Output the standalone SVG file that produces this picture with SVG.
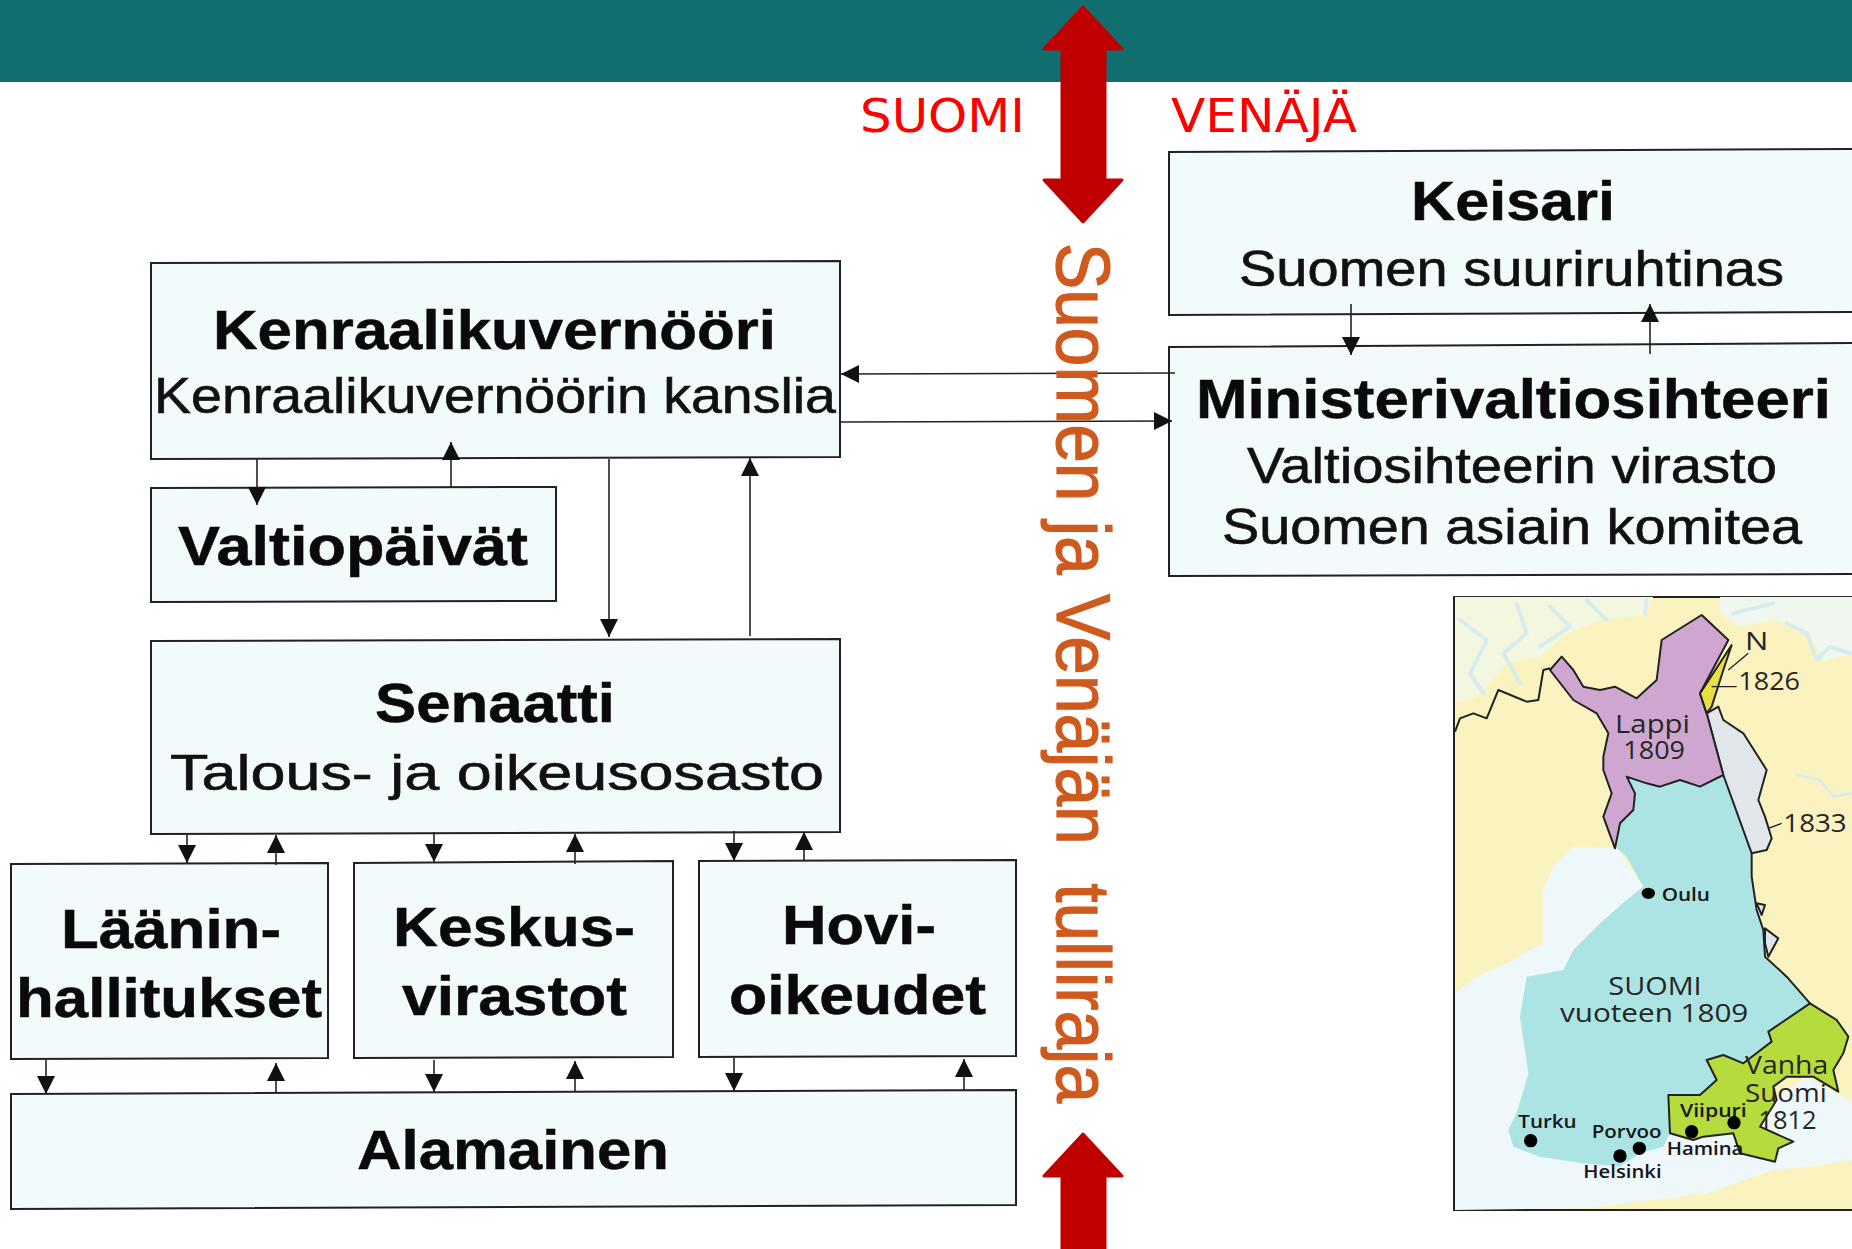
<svg xmlns="http://www.w3.org/2000/svg" width="1852" height="1249" viewBox="0 0 1852 1249">
<style>
.box{fill:#f2fafb;stroke:#222;stroke-width:2}
.b{font:bold 56px "Liberation Sans",Arial,sans-serif;fill:#0a0a0a;stroke:#0a0a0a;stroke-width:.5}
.r{font:50px "Liberation Sans",Arial,sans-serif;fill:#111;stroke:#111;stroke-width:.6}
.c{fill:none;stroke:#222;stroke-width:1.6;marker-end:url(#ah)}
.red{font:46px "DejaVu Sans",sans-serif;fill:#f00}
.big{fill:#c00000;stroke:#c00000;stroke-width:3;stroke-linejoin:round}
.mt{font:74px "Open Sans",sans-serif;fill:#262626}
.ms{font:600 56px "Open Sans",sans-serif;fill:#161616}
.ml{fill:none;stroke:#222;stroke-width:6;stroke-linejoin:round}
.sc{fill:none;stroke:#d6edf0;stroke-width:12;stroke-linejoin:round;stroke-linecap:round}
</style>
<defs>
<marker id="ah" markerUnits="userSpaceOnUse" markerWidth="18" markerHeight="20" refX="18" refY="9" orient="auto"><path d="M0 0L18 9L0 18Z" fill="#111"/></marker>
<clipPath id="mc"><rect x="42" y="20" width="1200" height="1840"/></clipPath>
</defs>
<rect id="bg" width="1852" height="1249" fill="#fff"/>
<rect id="top-bar" width="1852" height="82" fill="#116e6e"/>
<g id="boxes">
<g id="kenraalikuvernoori"><polygon class="box" points="151,263 840,261 840,457 151,459"/>
<text class="b" x="213" y="349" textLength="563" lengthAdjust="spacingAndGlyphs">Kenraalikuvernööri</text>
<text class="r" x="154" y="413" textLength="682" lengthAdjust="spacingAndGlyphs">Kenraalikuvernöörin kanslia</text></g>
<g id="valtiopaivat"><polygon class="box" points="151,488 556,487 556,601 151,602"/>
<text class="b" x="178" y="565" textLength="350" lengthAdjust="spacingAndGlyphs">Valtiopäivät</text></g>
<g id="senaatti"><polygon class="box" points="151,641 840,639 840,832 151,834"/>
<text class="b" x="375" y="722" textLength="240" lengthAdjust="spacingAndGlyphs">Senaatti</text>
<text class="r" x="170" y="790" textLength="654" lengthAdjust="spacingAndGlyphs">Talous- ja oikeusosasto</text></g>
<g id="laanin"><polygon class="box" points="11,864 328,863 328,1058 11,1059"/>
<text class="b" x="61" y="948" textLength="220" lengthAdjust="spacingAndGlyphs">Läänin-</text>
<text class="b" x="16" y="1017" textLength="306" lengthAdjust="spacingAndGlyphs">hallitukset</text></g>
<g id="keskus"><polygon class="box" points="354,863 673,861 673,1057 354,1058"/>
<text class="b" x="393" y="946" textLength="242" lengthAdjust="spacingAndGlyphs">Keskus-</text>
<text class="b" x="402" y="1015" textLength="225" lengthAdjust="spacingAndGlyphs">virastot</text></g>
<g id="hovi"><polygon class="box" points="699,861 1016,860 1016,1056 699,1057"/>
<text class="b" x="782" y="944" textLength="154" lengthAdjust="spacingAndGlyphs">Hovi-</text>
<text class="b" x="729" y="1014" textLength="257" lengthAdjust="spacingAndGlyphs">oikeudet</text></g>
<g id="alamainen"><polygon class="box" points="11,1094 1016,1090 1016,1205 11,1209"/>
<text class="b" x="357" y="1169" textLength="312" lengthAdjust="spacingAndGlyphs">Alamainen</text></g>
<g id="keisari"><polygon class="box" points="1169,152 1860,149 1860,312 1169,315"/>
<text class="b" x="1411" y="220" textLength="204" lengthAdjust="spacingAndGlyphs">Keisari</text>
<text class="r" x="1239" y="286" textLength="545" lengthAdjust="spacingAndGlyphs">Suomen suuriruhtinas</text></g>
<g id="ministerivaltiosihteeri"><polygon class="box" points="1169,347 1860,343 1860,574 1169,576"/>
<text class="b" x="1196" y="418" textLength="635" lengthAdjust="spacingAndGlyphs">Ministerivaltiosihteeri</text>
<text class="r" x="1247" y="483" textLength="530" lengthAdjust="spacingAndGlyphs">Valtiosihteerin virasto</text>
<text class="r" x="1222" y="544" textLength="580" lengthAdjust="spacingAndGlyphs">Suomen asiain komitea</text></g>
</g>
<g id="connectors">
<path class="c" d="M257 459V505"/><path class="c" d="M451 488V442"/>
<path class="c" d="M609 459V637"/><path class="c" d="M750 636V458"/>
<path class="c" d="M1351 304V355"/><path class="c" d="M1650 354V304"/>
<path class="c" d="M1175 373L841 374"/><path class="c" d="M840 422L1172 421"/>
<path class="c" d="M187 833V863"/><path class="c" d="M276 865V835"/>
<path class="c" d="M434 832V862"/><path class="c" d="M575 864V834"/>
<path class="c" d="M734 831V861"/><path class="c" d="M804 860V832"/>
<path class="c" d="M46 1060V1094"/><path class="c" d="M276 1093V1063"/>
<path class="c" d="M434 1060V1092"/><path class="c" d="M575 1092V1061"/>
<path class="c" d="M734 1058V1091"/><path class="c" d="M964 1090V1059"/>
</g>
<g id="border-arrows">
<polygon class="big" points="1083,7 1122,49 1105,49 1105,180 1122,180 1083,222 1044,180 1062,180 1062,49 1044,49"/>
<polygon class="big" points="1083,1134 1122,1176 1105,1176 1105,1252 1062,1252 1062,1176 1044,1176"/>
</g>
<g id="labels">
<text class="red" x="860" y="132" textLength="165" lengthAdjust="spacingAndGlyphs">SUOMI</text>
<text class="red" x="1171" y="132" textLength="186" lengthAdjust="spacingAndGlyphs">VENÄJÄ</text>
<text transform="translate(1057,243) rotate(90)" font-family="Liberation Sans, Arial, sans-serif" font-size="76" fill="#cf5a1e" stroke="#cf5a1e" stroke-width="1.2" textLength="860" lengthAdjust="spacingAndGlyphs" style="white-space:pre">Suomen ja Venäjän  tulliraja</text>
</g>
<g id="map">
<rect x="1454" y="597" width="400" height="613" fill="#fbf3bf" stroke="#222" stroke-width="2"/>
<g transform="translate(1440,590) scale(.33333)" clip-path="url(#mc)">
<path fill="#f4f7df" d="M45 20H640L610 75L480 90L380 130L300 200L200 220L110 320L45 340Z"/>
<path fill="#f0f7ee" d="M840 20H1240V190L1150 215L1110 130L1000 90L900 110L840 70Z"/>
<path class="sc" d="M60 90L140 150L90 250L130 310M230 40L260 130L190 190L240 280M330 50L390 110L300 170M440 30L500 90M620 30L615 70M880 70L960 50L1000 40M1040 100L1100 130L1130 210L1170 170L1230 190"/>
<path class="sc" style="stroke-width:8" d="M1070 555L1140 570L1180 620L1236 610"/>
<path fill="#eef8fa" d="M45 1210L110 1160L200 1120L310 1060L310 900L340 830L400 770L530 775L610 890L800 1300L900 1600L1100 1460L1240 1540V1710L1100 1730L1000 1740L800 1810L440 1855L45 1860Z"/>
<path fill="#ace4e4" d="M530 775L540 700L580 660L585 610L560 560L620 580L660 590L720 570L780 590L850 555L890 650L935 790L935 860L950 960L970 1020L975 1100L1040 1160L1110 1240L985 1325L995 1355L910 1420L850 1395L800 1410L830 1470L780 1515L685 1515L690 1630L670 1670L600 1690L540 1730L430 1720L300 1700L220 1670L205 1620L230 1570L265 1450L240 1280L260 1160L370 1140L400 1080L480 1000L560 930L610 890L560 800Z"/>
<path class="ml" style="fill:#b5dc3c" d="M1110 1240L1190 1290L1225 1340L1210 1390L1180 1440L1195 1505L1120 1460L1040 1460L1000 1490L1010 1530L960 1610L1060 1655L1015 1675L1005 1715L900 1690L880 1630L790 1640L760 1650L690 1630L685 1515L780 1515L830 1470L800 1410L850 1395L910 1420L995 1355L985 1325Z"/>
<path class="ml" style="fill:#e0e6ea" d="M800 370L835 350L850 390L910 430L980 540L955 630L975 680L995 745L980 780L935 790L850 555Z"/>
<path class="ml" style="fill:#cfa6cf" d="M330 240L365 200L400 240L430 290L480 300L525 290L590 325L650 270L665 150L785 75L865 150L780 310L800 370L850 555L780 590L720 570L660 590L620 580L560 560L585 610L580 660L540 700L525 775L490 680L515 610L490 540L490 500L505 430L470 370L400 330Z"/>
<path class="ml" style="fill:#e8e040" d="M875 165L850 240L815 350L800 370L780 310Z"/>
<path class="ml" d="M45 425L60 385L100 370L140 385L175 300L260 335L295 330L310 240L330 235"/>
<path class="ml" d="M935 790L935 860L950 960L970 1020L975 1100L1040 1160L1110 1240"/>
<path class="ml" style="fill:#e0e6ea" d="M975 1015L1015 1045L985 1100L975 1060ZM950 940L975 945L965 975Z"/>
<path d="M865 240L925 190" class="ml" style="stroke-width:4"/>
<path d="M815 290H890M985 715L1025 700" class="ml" style="stroke-width:4"/>
<text class="mt" x="915" y="180" textLength="70" lengthAdjust="spacingAndGlyphs">N</text>
<text class="mt" x="895" y="300" textLength="185" lengthAdjust="spacingAndGlyphs">1826</text>
<text class="mt" x="1030" y="725" textLength="190" lengthAdjust="spacingAndGlyphs">1833</text>
<text class="mt" x="525" y="428" textLength="225" lengthAdjust="spacingAndGlyphs">Lappi</text>
<text class="mt" x="550" y="508" textLength="185" lengthAdjust="spacingAndGlyphs">1809</text>
<text class="ms" x="665" y="932" textLength="145" lengthAdjust="spacingAndGlyphs">Oulu</text>
<text class="mt" x="505" y="1215" textLength="280" lengthAdjust="spacingAndGlyphs">SUOMI</text>
<text class="mt" x="360" y="1295" textLength="565" lengthAdjust="spacingAndGlyphs">vuoteen 1809</text>
<text class="mt" x="915" y="1452" textLength="250" lengthAdjust="spacingAndGlyphs">Vanha</text>
<text class="mt" x="915" y="1535" textLength="245" lengthAdjust="spacingAndGlyphs">Suomi</text>
<text class="mt" x="955" y="1618" textLength="175" lengthAdjust="spacingAndGlyphs">1812</text>
<text class="ms" x="720" y="1580" textLength="200" lengthAdjust="spacingAndGlyphs">Viipuri</text>
<text class="ms" x="235" y="1615" textLength="175" lengthAdjust="spacingAndGlyphs">Turku</text>
<text class="ms" x="455" y="1645" textLength="210" lengthAdjust="spacingAndGlyphs">Porvoo</text>
<text class="ms" x="680" y="1695" textLength="230" lengthAdjust="spacingAndGlyphs">Hamina</text>
<text class="ms" x="430" y="1765" textLength="235" lengthAdjust="spacingAndGlyphs">Helsinki</text>
<g fill="#000"><ellipse cx="625" cy="910" rx="20" ry="17"/><circle cx="272" cy="1652" r="20"/><circle cx="598" cy="1675" r="20"/><circle cx="540" cy="1698" r="20"/><circle cx="755" cy="1625" r="20"/><circle cx="882" cy="1598" r="20"/></g>
</g>
</g>
</svg>
